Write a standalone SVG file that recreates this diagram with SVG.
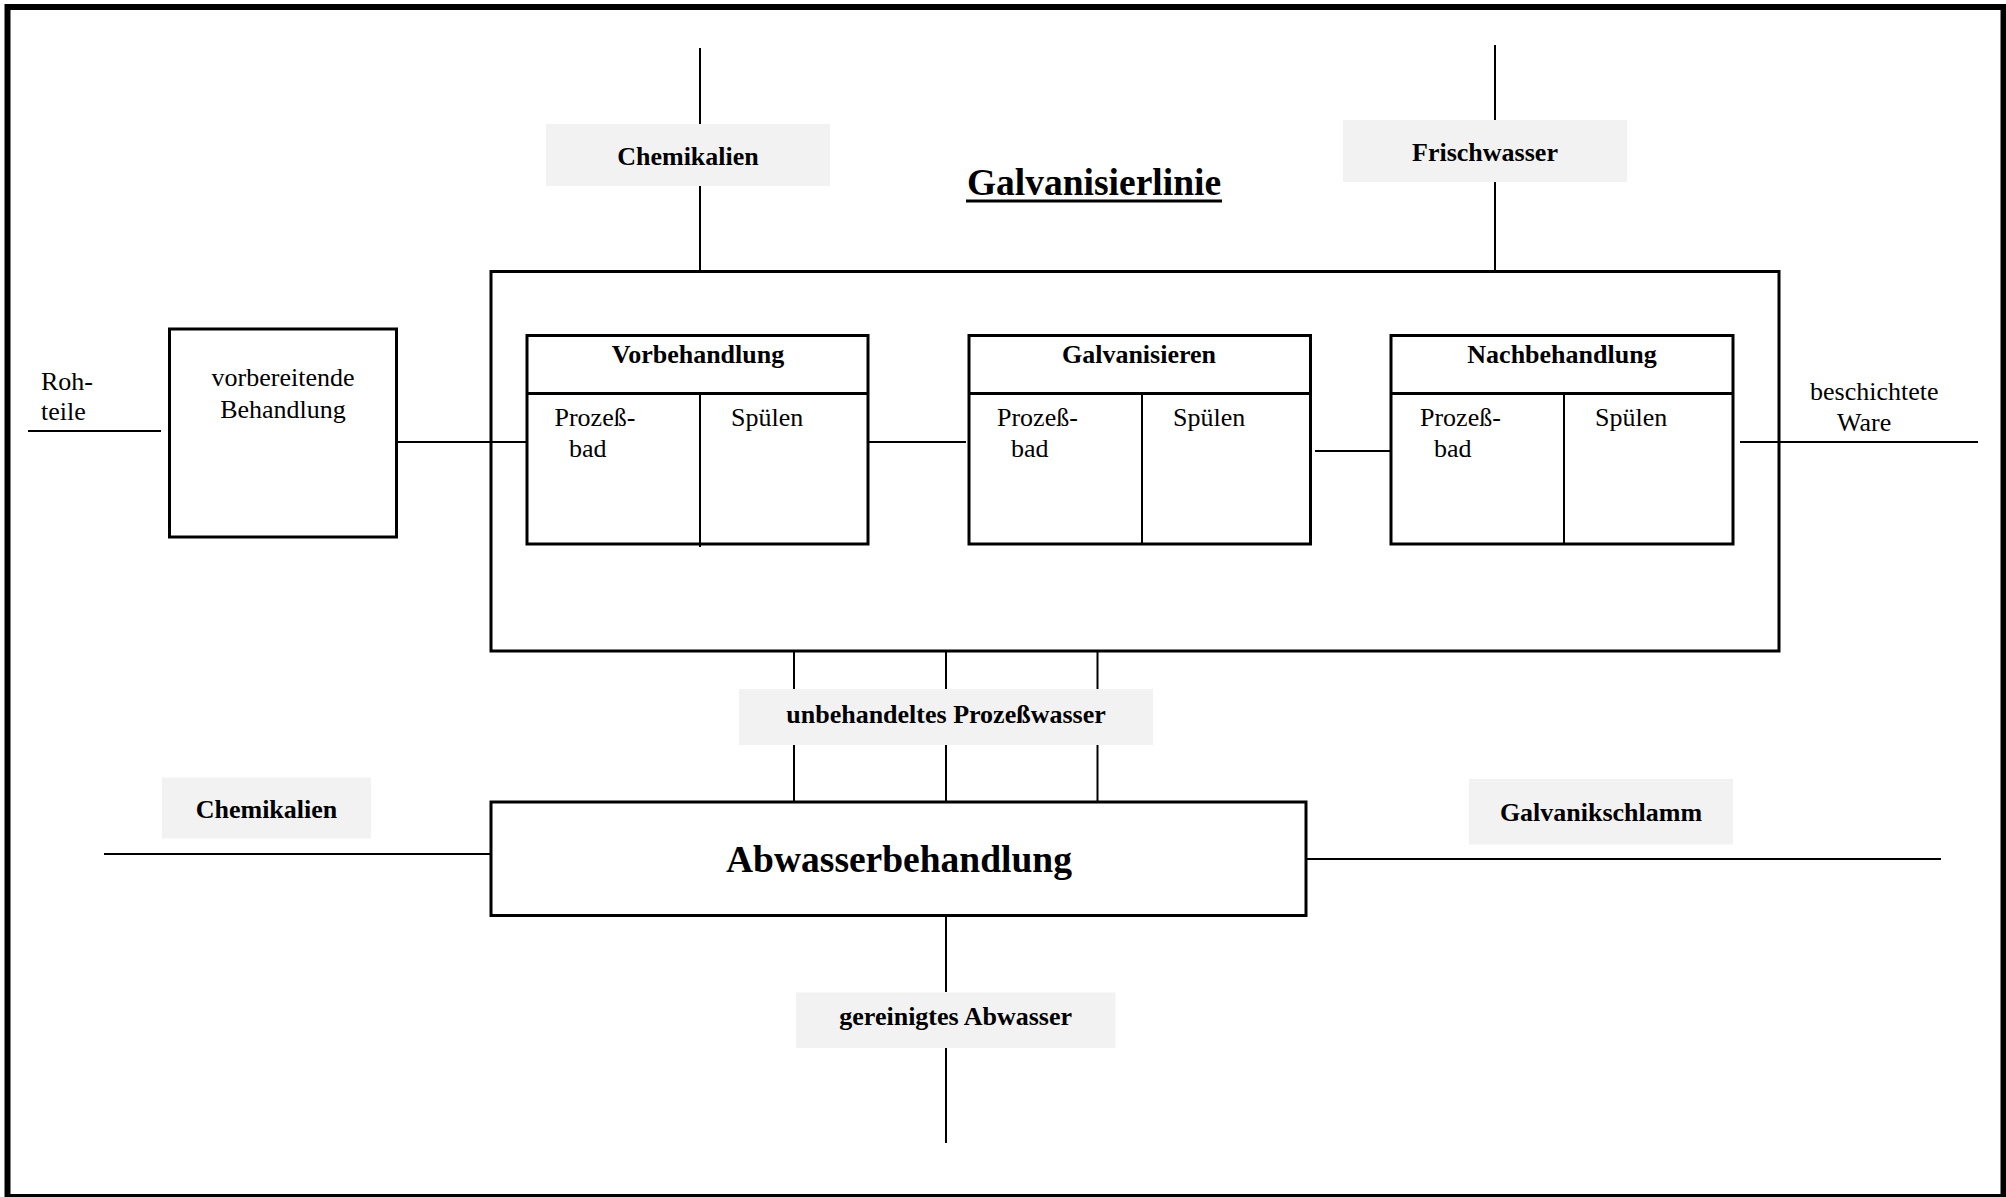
<svg xmlns="http://www.w3.org/2000/svg" width="2006" height="1197" viewBox="0 0 2006 1197">
  <style>
    .frame { fill: none; stroke: #000; stroke-width: 6; }
    .box { fill: #fff; stroke: #000; stroke-width: 3; }
    .open { fill: none; stroke: #000; stroke-width: 3; }
    .div { stroke: #000; stroke-width: 3; }
    .wire { stroke: #000; stroke-width: 2; fill: none; }
    .tag { fill: #f2f2f2; }
    text { font-family: 'Liberation Serif', 'DejaVu Serif', serif; fill: #000; }
    .lbl { font-size: 26px; font-weight: bold; text-anchor: middle; }
    .txt { font-size: 26px; }
    .mid { text-anchor: middle; }
    .head { font-size: 26px; font-weight: bold; text-anchor: middle; }
  </style>

  <rect width="2006" height="1197" fill="#fff"/>
  <rect class="frame" x="7.5" y="7" width="1996" height="1190"/>

  <!-- connectors -->
  <g id="connectors">
    <line class="wire" x1="700" y1="48" x2="700" y2="124"/>
    <line class="wire" x1="700" y1="186" x2="700" y2="271"/>
    <line class="wire" x1="1495" y1="45" x2="1495" y2="120"/>
    <line class="wire" x1="1495" y1="182" x2="1495" y2="272"/>
    <line class="wire" x1="28" y1="431" x2="161" y2="431"/>
    <line class="wire" x1="397" y1="442" x2="530" y2="442"/>
    <line class="wire" x1="868" y1="442" x2="966" y2="442"/>
    <line class="wire" x1="1315" y1="451" x2="1393" y2="451"/>
    <line class="wire" x1="1740" y1="442" x2="1978" y2="442"/>
    <line class="wire" x1="794" y1="651" x2="794" y2="689"/>
    <line class="wire" x1="946" y1="651" x2="946" y2="689"/>
    <line class="wire" x1="1097.5" y1="651" x2="1097.5" y2="689"/>
    <line class="wire" x1="794" y1="745" x2="794" y2="802"/>
    <line class="wire" x1="946" y1="745" x2="946" y2="802"/>
    <line class="wire" x1="1097.5" y1="745" x2="1097.5" y2="802"/>
    <line class="wire" x1="104" y1="854" x2="491" y2="854"/>
    <line class="wire" x1="1306" y1="859" x2="1941" y2="859"/>
    <line class="wire" x1="946" y1="916" x2="946" y2="992"/>
    <line class="wire" x1="946" y1="1048" x2="946" y2="1143"/>
  </g>

  <!-- Galvanisierlinie enclosure -->
  <g id="galvanisierlinie">
    <rect class="open" x="491" y="271.5" width="1288" height="379.5"/>
    <text x="1094" y="195" font-size="37.5" font-weight="bold" text-anchor="middle">Galvanisierlinie</text>
    <line x1="966" y1="201" x2="1222" y2="201" stroke="#000" stroke-width="3"/>
  </g>

  <g id="vorbereitende">
    <rect class="box" x="169.5" y="329" width="227" height="208"/>
    <text class="txt mid" x="283" y="386">vorbereitende</text>
    <text class="txt mid" x="283" y="418">Behandlung</text>
  </g>

  <g id="vorbehandlung">
    <rect class="box" x="527" y="335.5" width="341" height="208.5"/>
    <line class="div" x1="527" y1="393.5" x2="868" y2="393.5"/>
    <line class="wire" x1="700" y1="393.5" x2="700" y2="547"/>
    <text class="head" x="698" y="363">Vorbehandlung</text>
    <text class="txt" x="554.5" y="426">Prozeß-</text>
    <text class="txt" x="569" y="457">bad</text>
    <text class="txt" x="731" y="426">Spülen</text>
  </g>

  <g id="galvanisieren">
    <rect class="box" x="969" y="335.5" width="341.5" height="208.5"/>
    <line class="div" x1="969" y1="393.5" x2="1310.5" y2="393.5"/>
    <line class="wire" x1="1142" y1="393.5" x2="1142" y2="544"/>
    <text class="head" x="1139" y="363">Galvanisieren</text>
    <text class="txt" x="997" y="426">Prozeß-</text>
    <text class="txt" x="1011" y="457">bad</text>
    <text class="txt" x="1173" y="426">Spülen</text>
  </g>

  <g id="nachbehandlung">
    <rect class="box" x="1391" y="335.5" width="342" height="208.5"/>
    <line class="div" x1="1391" y1="393.5" x2="1733" y2="393.5"/>
    <line class="wire" x1="1564" y1="393.5" x2="1564" y2="544"/>
    <text class="head" x="1562" y="362.5">Nachbehandlung</text>
    <text class="txt" x="1420" y="425.5">Prozeß-</text>
    <text class="txt" x="1434" y="457">bad</text>
    <text class="txt" x="1595" y="425.5">Spülen</text>
  </g>

  <g id="abwasserbehandlung">
    <rect class="box" x="491" y="802" width="815" height="113.5"/>
    <text x="899" y="872" font-size="37.5" font-weight="bold" text-anchor="middle">Abwasserbehandlung</text>
  </g>

  <!-- stream labels -->
  <g id="rohteile">
    <text class="txt" x="41" y="390">Roh-</text>
    <text class="txt" x="41" y="420">teile</text>
  </g>
  <g id="beschichtete-ware">
    <text class="txt" x="1810" y="399.5">beschichtete</text>
    <text class="txt" x="1837" y="431">Ware</text>
  </g>
  <g id="chemikalien-oben">
    <rect class="tag" x="546" y="124" width="284" height="62"/>
    <text class="lbl" x="688" y="164.5">Chemikalien</text>
  </g>
  <g id="frischwasser">
    <rect class="tag" x="1343" y="120" width="284" height="62"/>
    <text class="lbl" x="1485" y="160.5">Frischwasser</text>
  </g>
  <g id="prozesswasser">
    <rect class="tag" x="739" y="689" width="414" height="56"/>
    <text class="lbl" x="946" y="722.5">unbehandeltes Prozeßwasser</text>
  </g>
  <g id="chemikalien-unten">
    <rect class="tag" x="162" y="777.5" width="209" height="61"/>
    <text class="lbl" x="266.5" y="818">Chemikalien</text>
  </g>
  <g id="galvanikschlamm">
    <rect class="tag" x="1469" y="779" width="264" height="65.5"/>
    <text class="lbl" x="1601" y="820.5">Galvanikschlamm</text>
  </g>
  <g id="abwasser-gereinigt">
    <rect class="tag" x="796" y="992.5" width="319.5" height="55.5"/>
    <text class="lbl" x="955.7" y="1025">gereinigtes Abwasser</text>
  </g>
</svg>
